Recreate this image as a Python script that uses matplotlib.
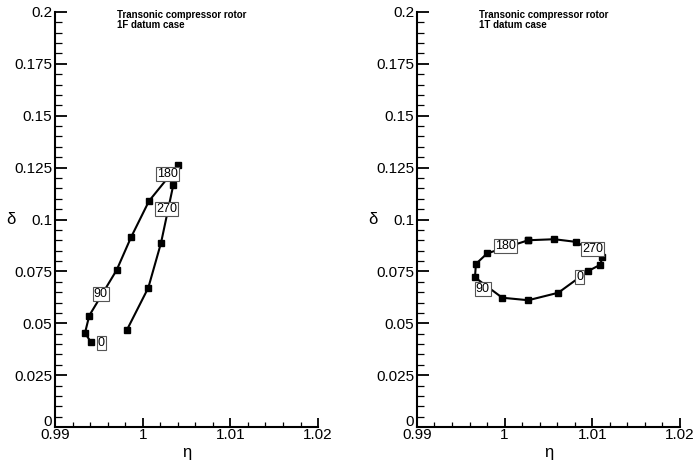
import matplotlib.pyplot as plt
from matplotlib.ticker import MultipleLocator
import matplotlib.transforms as mtransforms

plt.rcParams['font.family'] = ['Liberation Sans', 'DejaVu Sans']

# 1F datum case (eta, delta) along the loop
eta_1f = [0.99407, 0.99342, 0.99391, 0.99704, 0.99867, 1.00072, 1.00406,
          1.00349, 1.00209, 1.00064, 0.99818]
delta_1f = [0.0411, 0.0453, 0.0537, 0.0757, 0.0914, 0.1089, 0.1263,
            0.1166, 0.0887, 0.0671, 0.0466]
phase_labels = ['0', '90', '180', '270']
label_eta_1f = [0.99525, 0.99521, 1.00281, 1.00274]
label_delta_1f = [0.0405, 0.0641, 0.1219, 0.1051]

# 1T datum case (closed loop)
eta_1t = [1.00270, 1.00567, 1.00817, 1.01114, 1.01091, 1.00954, 1.00612,
          1.00270, 0.99973, 0.99662, 0.99673, 0.99802, 1.00270]
delta_1t = [0.0900, 0.0905, 0.0892, 0.0818, 0.0782, 0.0752, 0.0647,
            0.0611, 0.0623, 0.0721, 0.0786, 0.0837, 0.0900]
label_eta_1t = [1.00859, 0.99749, 1.00012, 1.01004]
label_delta_1t = [0.0724, 0.0665, 0.0872, 0.0858]

titles = ['Transonic compressor rotor\n1F datum case',
          'Transonic compressor rotor\n1T datum case']

fig = plt.figure(figsize=(6.96, 4.72), dpi=100)
ax1 = fig.add_axes([0.079, 0.0953, 0.378, 0.8793])
ax2 = fig.add_axes([0.599, 0.0953, 0.378, 0.8793])

cases = [(ax1, eta_1f, delta_1f, label_eta_1f, label_delta_1f, titles[0]),
         (ax2, eta_1t, delta_1t, label_eta_1t, label_delta_1t, titles[1])]

for ax, x, y, lx, ly, title in cases:
    ax.plot(x, y, color='k', lw=1.5, marker='s', ms=5, zorder=2)
    for t, px, py in zip(phase_labels, lx, ly):
        ax.text(px, py, t, fontsize=9, ha='center', va='center', zorder=3,
                bbox=dict(boxstyle='square,pad=0.08', fc='white', ec='#555555', lw=0.8))
    ax.text(0.9971, 0.2008, title, fontsize=7, fontweight='bold',
            ha='left', va='top', linespacing=0.95)
    ax.set_xlim(0.99, 1.02)
    ax.set_ylim(0, 0.2)
    ax.xaxis.set_minor_locator(MultipleLocator(0.002))
    ax.yaxis.set_minor_locator(MultipleLocator(0.005))
    ax.set_xticks([0.99, 1.0, 1.01, 1.02])
    ax.set_xticklabels(['0.99', '1', '1.01', '1.02'])
    ax.set_yticks([0, 0.025, 0.05, 0.075, 0.1, 0.125, 0.15, 0.175, 0.2])
    ax.set_yticklabels(['0', '0.025', '0.05', '0.075', '0.1', '0.125',
                        '0.15', '0.175', '0.2'])
    ax.spines['top'].set_visible(False)
    ax.spines['right'].set_visible(False)
    ax.spines['left'].set_linewidth(1.5)
    ax.spines['bottom'].set_linewidth(1.5)
    ax.tick_params(axis='y', which='major', direction='in', length=8.5, width=1.3,
                   labelsize=11, pad=2)
    ax.tick_params(axis='y', which='minor', direction='in', length=5, width=0.9)
    ax.tick_params(axis='x', which='major', direction='in', length=6.5, width=1.3,
                   labelsize=11, pad=1)
    ax.tick_params(axis='x', which='minor', direction='in', length=3.5, width=0.9)
    # lift the "0" label above the x tick labels, as in the original
    ax.get_yticklabels()[0].set_transform(
        ax.get_yticklabels()[0].get_transform()
        + mtransforms.ScaledTranslation(0, 5 / 72, fig.dpi_scale_trans))
    ax.set_xlabel('η', fontsize=12, labelpad=2)
    ax.set_ylabel('δ', fontsize=12, rotation=0, labelpad=2, va='center')

fig.savefig('out.png', dpi=100)
